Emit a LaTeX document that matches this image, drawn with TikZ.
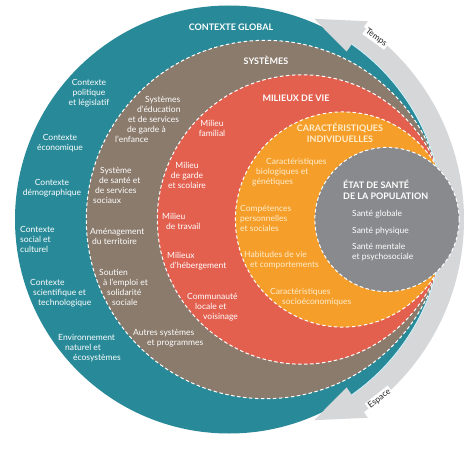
\documentclass[tikz,border=0pt]{standalone}
\usepackage{fontspec}
\setmainfont{Lato}
\definecolor{ctx}{RGB}{40,138,152}
\definecolor{sys}{RGB}{139,123,108}
\definecolor{mil}{RGB}{227,96,79}
\definecolor{car}{RGB}{245,158,42}
\definecolor{etat}{RGB}{136,138,141}
\definecolor{bandlt}{RGB}{214,215,217}
\definecolor{banddk}{RGB}{172,174,176}
\definecolor{cream}{RGB}{255,238,205}

\begin{document}
\begin{tikzpicture}[x=1pt,y=1pt,
		txt/.style={text=white,font=\fontsize{8.5}{10}\selectfont,inner sep=0pt},
		head/.style={text=white,font=\fontsize{9}{11}\selectfont\bfseries,inner sep=0pt,align=center},
		sep/.style={draw=white,line width=1pt,dash pattern=on 3.5pt off 2.5pt},
		tag/.style={fill=white,text=black!85,font=\fontsize{8.5}{9}\selectfont,inner sep=1.5pt}]
			\useasboundingbox (0,0) rectangle (474,451);
			\fill[white] (0,0) rectangle (474,451);
			% the nested circles
			\fill[ctx] (229,231.5) circle[radius=214];
			\filldraw[sep,fill=sys] (265.5,231.5) circle[radius=179.2];
			\filldraw[sep,fill=mil] (302,231.5) circle[radius=144.7];
			\filldraw[sep,fill=car] (343,231.5) circle[radius=107.6];
			% the time / space arrow
			\begin{scope}[shift={(229,231.5)}]
				\path[top color=bandlt,middle color=banddk,bottom color=bandlt]
					(55:235) arc[start angle=55,end angle=-55,radius=235]
					-- (-55:242) -- (-67:218) -- (-55:205) -- (-55:214)
					arc[start angle=-55,end angle=55,radius=214]
					-- (55:205) -- (67:218) -- (55:242) -- cycle;
				\draw[cyan!20,line width=0.8pt] (55:214) arc[start angle=55,end angle=-55,radius=214];
				\node[tag,rotate=-36] (temps) at (51:234) {Temps};
				\node[tag,rotate=38] (espace) at (-50:234) {Espace};
			\end{scope}
			\filldraw[sep,fill=etat] (387,231.5) circle[radius=72.1];
			% contexte global
			\node[head] (ctxg) at (231,424) {CONTEXTE GLOBAL};
			\node[txt,align=center] (pol) at (89,358) {Contexte\\politique\\et législatif};
			\node[txt,align=center] (eco) at (60,307.5) {Contexte\\économique};
			\node[txt,align=center] (demo) at (52,262.5) {Contexte\\démographique};
			\node[txt,align=left,anchor=west] (soc) at (20,212) {Contexte\\social et\\culturel};
			\node[txt,align=left,anchor=west] (sci) at (30,157.5) {Contexte\\\hspace*{3pt}scientifique et\\\hspace*{8pt}technologique};
			\node[txt,align=left,anchor=west] (env) at (58,103) {Environnement\\\hspace*{7pt}naturel et\\\hspace*{15pt}écosystèmes};
			% systemes
			\node[head] (sysh) at (266,391) {SYSTÈMES};
			\node[txt,align=left,anchor=west] (edu) at (115,332) {\hspace*{30pt}Systèmes\\\hspace*{22pt}d'éducation\\\hspace*{13pt}et de services\\\hspace*{12pt}de garde à\\l'enfance};
			\node[txt,align=left,anchor=west] (sante) at (93,265.5) {\hspace*{7pt}Système\\\hspace*{6pt}de santé et\\\hspace*{2pt}de services\\sociaux};
			\node[txt,align=left,anchor=west] (amen) at (90,215) {Aménagement\\\hspace*{2pt}du territoire};
			\node[txt,align=left,anchor=west] (sout) at (99,164) {Soutien\\\hspace*{4pt}à l'emploi et\\\hspace*{8pt}solidarité\\\hspace*{13pt}sociale};
			\node[txt,align=left,anchor=west] (autres) at (133,113) {Autres systèmes\\\hspace*{14pt}et programmes};
			% milieux de vie
			\node[head] (milh) at (296,353) {MILIEUX DE VIE};
			\node[txt,align=center] (fam) at (212,322.5) {Milieu\\familial};
			\node[txt,align=center] (garde) at (187,275.5) {Milieu\\de garde\\et scolaire};
			\node[txt,align=left,anchor=west] (trav) at (162,230) {Milieu\\\hspace*{4pt}de travail};
			\node[txt,align=left,anchor=west] (heb) at (167,189.5) {Milieux\\\hspace*{3pt}d'hébergement};
			\node[txt,align=left,anchor=west] (comm) at (187,143.5) {Communauté\\\hspace*{8pt}locale et\\\hspace*{16pt}voisinage};
			% caracteristiques individuelles
			\node[head,text=cream] (carh) at (340,318) {CARACTÉRISTIQUES\\INDIVIDUELLES};
			\node[txt,text=cream,align=left,anchor=west] (bio) at (252,279) {\hspace*{14pt}Caractéristiques\\\hspace*{4pt}biologiques et\\génétiques};
			\node[txt,text=cream,align=left,anchor=west] (comp) at (240,233) {Compétences\\personnelles\\et sociales};
			\node[txt,text=cream,align=left,anchor=west] (habit) at (244,191) {Habitudes de vie\\\hspace*{6pt}et comportements};
			\node[txt,text=cream,align=left,anchor=west] (soceco) at (270,154) {Caractéristiques\\\hspace*{12pt}socioéconomiques};
			% etat de sante
			\node[head,align=left,anchor=west] (etath) at (343,261) {ÉTAT DE SANTÉ\\DE LA POPULATION};
			\node[txt,anchor=west] (glob) at (352,237) {Santé globale};
			\node[txt,anchor=west] (phys) at (352,220) {Santé physique};
			\node[txt,align=left,anchor=west] (ment) at (352,198.5) {Santé mentale\\et psychosociale};
		\end{tikzpicture}
\end{document}
